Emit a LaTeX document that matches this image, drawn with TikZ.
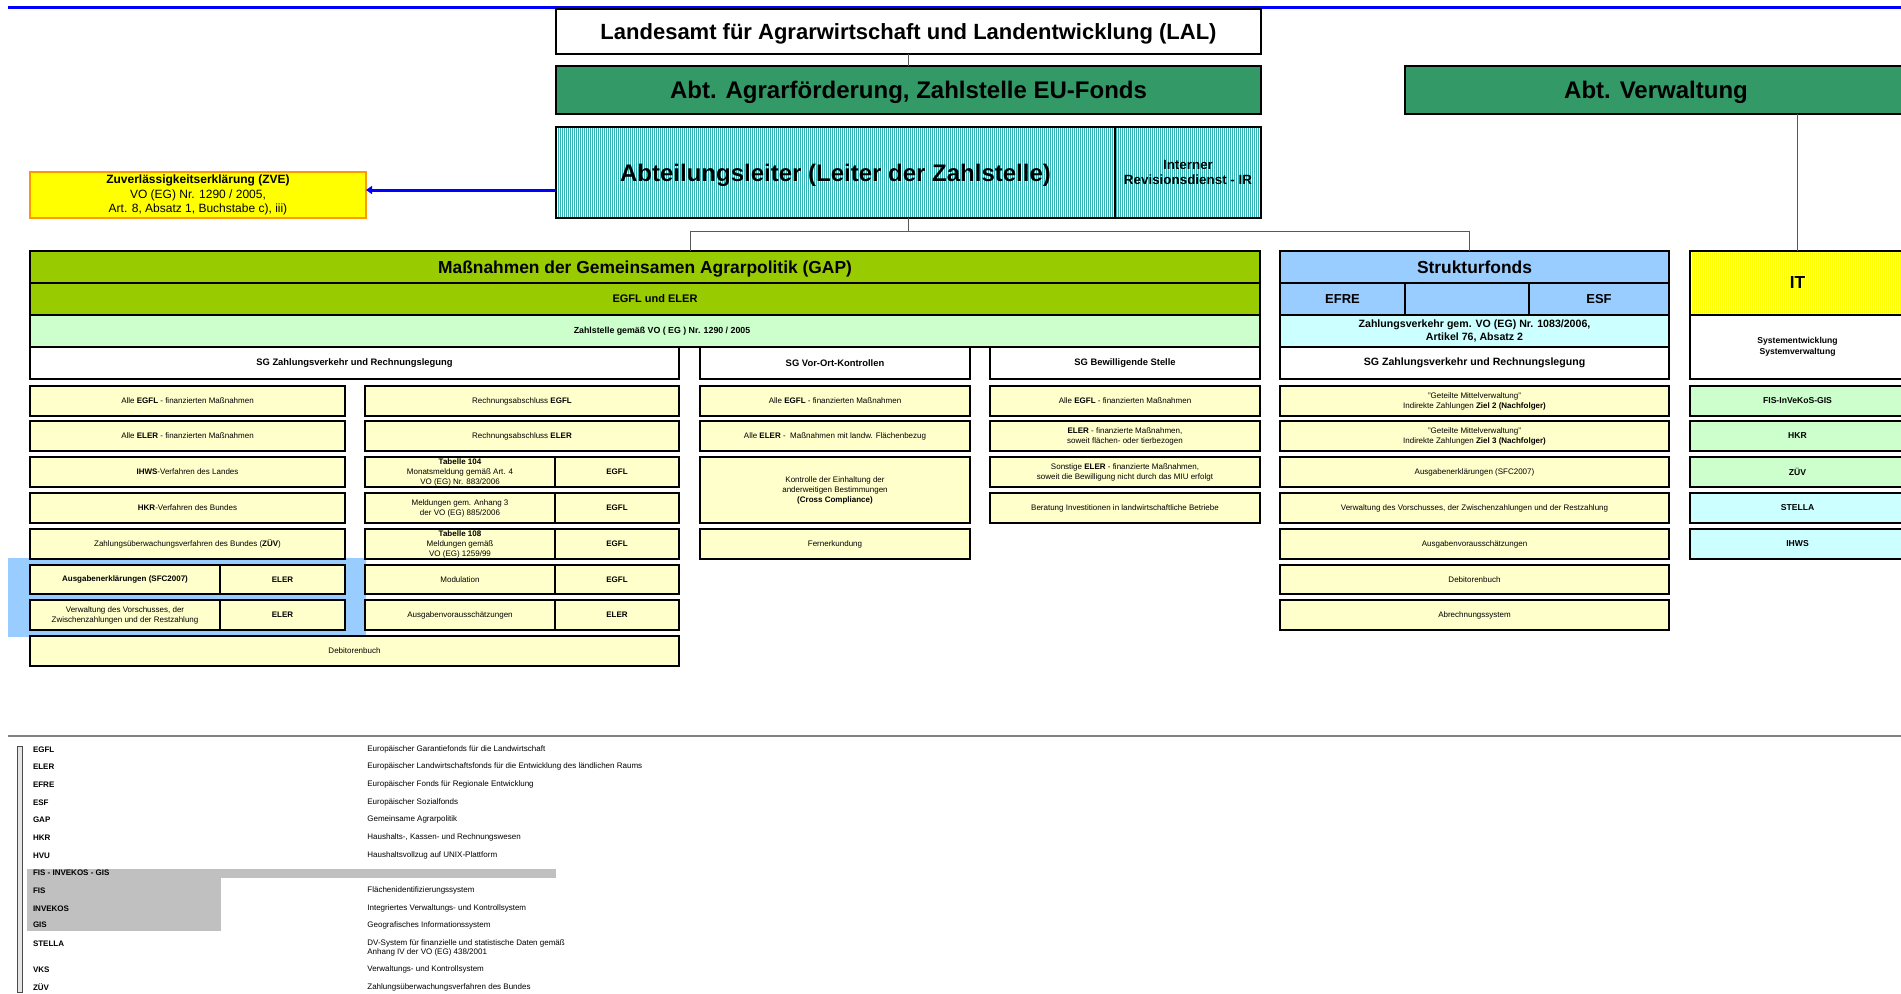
\documentclass[tikz,border=0pt]{standalone}
\usepackage{fontspec}
\setmainfont{Liberation Sans}
\usetikzlibrary{patterns.meta,arrows.meta}
\definecolor{abtgreen}{HTML}{339966}
\definecolor{gapgreen}{HTML}{99CC00}
\definecolor{lgreen}{HTML}{CCFFCC}
\definecolor{lyellow}{HTML}{FFFFCC}
\definecolor{sfblue}{HTML}{99CCFF}
\definecolor{lcyan}{HTML}{CCFFFF}
\definecolor{zveyellow}{HTML}{FFFF00}
\definecolor{zveorange}{HTML}{FF9900}
\definecolor{hatchteal}{HTML}{33B3B3}
\definecolor{hatchyellow}{HTML}{FFFF00}
\definecolor{legendgray}{HTML}{C0C0C0}
\newcommand\fzA{\fontsize{11pt}{13pt}\selectfont\bfseries}
\newcommand\fzB{\fontsize{12pt}{14pt}\selectfont\bfseries}
\newcommand\fzC{\fontsize{8.7pt}{10pt}\selectfont\bfseries}
\newcommand\fzD{\fontsize{5.5pt}{6.6pt}\selectfont\bfseries}
\newcommand\fzDD{\fontsize{6.5pt}{7.8pt}\selectfont\bfseries}
\newcommand\fzE{\fontsize{5.3pt}{6.4pt}\selectfont\bfseries}
\newcommand\fzEs{\fontsize{4.7pt}{5.6pt}\selectfont\bfseries}
\newcommand\fzEz{\fontsize{4.4pt}{5.3pt}\selectfont\bfseries}
\newcommand\fzIR{\fontsize{6.7pt}{7.9pt}\selectfont\bfseries}
\newcommand\fzZ{\fontsize{6pt}{7.3pt}\selectfont}
\newcommand\fzS{\fontsize{4pt}{5pt}\selectfont}
\newcommand\fzSB{\fontsize{4.3pt}{5.3pt}\selectfont\bfseries}
\newcommand\fzL{\fontsize{4pt}{4.6pt}\selectfont}
\newcommand\bx[7]{\node[#6, minimum width={(#4-#2)*0.5pt}, minimum height={(#5-#3)*0.5pt}] (#1) at ({(#2+#4)/2},{(#3+#5)/2}) {#7};}
\begin{document}
\begin{tikzpicture}[x=0.5pt,y=-0.5pt,
  box/.style={draw=black, line width=0.75pt, inner sep=0pt, outer sep=0pt, align=center, text=black},
  onel/.style={text depth=0pt},
  ybox/.style={box, fill=lyellow, font=\fzS},
  alhatch/.style={preaction={fill=white}, pattern={Lines[angle=90,distance=1pt,line width=0.5pt]}, pattern color=hatchteal},
  ithatch/.style={preaction={fill=white}, pattern={Lines[angle=90,distance=1pt,line width=0.5pt]}, pattern color=hatchyellow},
  conn/.style={draw=black!65, line width=0.5pt},
  zvearrow/.style={draw=blue, line width=1.5pt, -{Triangle[length=3pt,width=4pt]}},
  labb/.style={anchor=west, inner sep=0pt, font=\fzL\bfseries},
  labd/.style={anchor=west, inner sep=0pt, font=\fzL, align=left}
]
\clip (0,0) rectangle (1901,993);
\fill[white] (0,0) rectangle (1901,993);

% top rule
\coordinate (tl0) at (8,7.5);
\coordinate (tl1) at (1901,7.5);
\draw[blue, line width=1.1pt] (tl0) -- (tl1);

% head boxes
\bx{lal}{556}{9}{1261}{54}{box, onel, fill=white, font=\fzA}{Landesamt für Agrarwirtschaft und Landentwicklung (LAL)}
\bx{abt}{556}{66}{1261}{114}{box, onel, fill=abtgreen, font=\fzB}{Abt. Agrarförderung, Zahlstelle EU-Fonds}
\bx{al}{556}{127}{1115}{218}{box, onel, alhatch, font=\fzB}{Abteilungsleiter (Leiter der Zahlstelle)}
\bx{ir}{1115}{127}{1261}{218}{box, alhatch, font=\fzIR}{Interner\\Revisionsdienst - IR}
\bx{verw}{1405}{66}{1907}{114}{box, onel, fill=abtgreen, font=\fzB}{Abt. Verwaltung}
\bx{zve}{30}{172}{366}{218}{box, draw=zveorange, fill=zveyellow, font=\fzZ}{\textbf{Zuverlässigkeitserklärung (ZVE)}\\VO (EG) Nr. 1290 / 2005,\\Art. 8, Absatz 1, Buchstabe c), iii)}

% GAP block
\bx{gap1}{30}{251}{1260}{283}{box, onel, fill=gapgreen, font=\fzC}{Maßnahmen der Gemeinsamen Agrarpolitik (GAP)}
\bx{gap2}{30}{283}{1260}{315}{box, fill=gapgreen, font=\fzD}{\hspace*{10pt}EGFL und ELER}
\bx{gap3}{30}{315}{1260}{347}{box, fill=lgreen, font=\fzEz}{\hspace*{17pt}Zahlstelle gemäß VO ( EG ) Nr. 1290 / 2005}
\bx{sga}{30}{347}{679}{379}{box, fill=white, font=\fzEs}{SG Zahlungsverkehr und Rechnungslegung}
\bx{sgc}{700}{347}{970}{379}{box, fill=white, font=\fzEs}{SG Vor-Ort-Kontrollen}
\bx{sgd}{990}{347}{1260}{379}{box, fill=white, font=\fzEs}{SG Bewilligende Stelle}

% blue highlight
\fill[sfblue] (8,558) rectangle (366,637);

% column a
\bx{ga1}{30}{386}{345}{416}{ybox}{Alle \textbf{EGFL} - finanzierten Maßnahmen}
\bx{ga2}{30}{421}{345}{451}{ybox}{Alle \textbf{ELER} - finanzierten Maßnahmen}
\bx{ga3}{30}{457}{345}{487}{ybox}{\textbf{IHWS}-Verfahren des Landes}
\bx{ga4}{30}{493}{345}{523}{ybox}{\textbf{HKR}-Verfahren des Bundes}
\bx{ga5}{30}{529}{345}{559}{ybox}{Zahlungsüberwachungsverfahren des Bundes (\textbf{ZÜV})}
\bx{ga6}{30}{565}{220}{594}{ybox}{\textbf{Ausgabenerklärungen (SFC2007)}}
\bx{ga6b}{220}{565}{345}{594}{ybox}{\textbf{ELER}}
\bx{ga7}{30}{600}{220}{630}{ybox}{Verwaltung des Vorschusses, der\\Zwischenzahlungen und der Restzahlung}
\bx{ga7b}{220}{600}{345}{630}{ybox}{\textbf{ELER}}
\bx{ga8}{30}{636}{679}{666}{ybox}{Debitorenbuch}

% column b
\bx{gb1}{365}{386}{679}{416}{ybox}{Rechnungsabschluss \textbf{EGFL}}
\bx{gb2}{365}{421}{679}{451}{ybox}{Rechnungsabschluss \textbf{ELER}}
\bx{gb3}{365}{457}{555}{487}{ybox}{\textbf{Tabelle 104}\\Monatsmeldung gemäß Art. 4\\VO (EG) Nr. 883/2006}
\bx{gb3b}{555}{457}{679}{487}{ybox}{\textbf{EGFL}}
\bx{gb4}{365}{493}{555}{523}{ybox}{Meldungen gem. Anhang 3\\der VO (EG) 885/2006}
\bx{gb4b}{555}{493}{679}{523}{ybox}{\textbf{EGFL}}
\bx{gb5}{365}{529}{555}{559}{ybox}{\textbf{Tabelle 108}\\Meldungen gemäß\\VO (EG) 1259/99}
\bx{gb5b}{555}{529}{679}{559}{ybox}{\textbf{EGFL}}
\bx{gb6}{365}{565}{555}{594}{ybox}{Modulation}
\bx{gb6b}{555}{565}{679}{594}{ybox}{\textbf{EGFL}}
\bx{gb7}{365}{600}{555}{630}{ybox}{Ausgabenvorausschätzungen}
\bx{gb7b}{555}{600}{679}{630}{ybox}{\textbf{ELER}}

% column c
\bx{gc1}{700}{386}{970}{416}{ybox}{Alle \textbf{EGFL} - finanzierten Maßnahmen}
\bx{gc2}{700}{421}{970}{451}{ybox}{Alle \textbf{ELER} -~ Maßnahmen mit landw. Flächenbezug}
\bx{gc3}{700}{457}{970}{523}{ybox}{Kontrolle der Einhaltung der\\anderweitigen Bestimmungen\\\textbf{(Cross Compliance)}}
\bx{gc5}{700}{529}{970}{559}{ybox}{Fernerkundung}

% column d
\bx{gd1}{990}{386}{1260}{416}{ybox}{Alle \textbf{EGFL} - finanzierten Maßnahmen}
\bx{gd2}{990}{421}{1260}{451}{ybox}{\textbf{ELER} - finanzierte Maßnahmen,\\soweit flächen- oder tierbezogen}
\bx{gd3}{990}{457}{1260}{487}{ybox}{Sonstige \textbf{ELER} - finanzierte Maßnahmen,\\soweit die Bewilligung nicht durch das MIU erfolgt}
\bx{gd4}{990}{493}{1260}{523}{ybox}{Beratung Investitionen in landwirtschaftliche Betriebe}

% Strukturfonds
\bx{sf1}{1280}{251}{1669}{283}{box, onel, fill=sfblue, font=\fzC}{Strukturfonds}
\bx{sf2a}{1280}{283}{1405}{315}{box, fill=sfblue, font=\fzDD}{EFRE}
\bx{sf2b}{1405}{283}{1529}{315}{box, fill=sfblue, font=\fzDD}{}
\bx{sf2c}{1529}{283}{1669}{315}{box, fill=sfblue, font=\fzDD}{ESF}
\bx{sf3}{1280}{315}{1669}{347}{box, fill=lcyan, font=\fzE}{Zahlungsverkehr gem. VO (EG) Nr. 1083/2006,\\Artikel 76, Absatz 2}
\bx{sf4}{1280}{347}{1669}{379}{box, fill=white, font=\fzE}{SG Zahlungsverkehr und Rechnungslegung}
\bx{sr1}{1280}{386}{1669}{416}{ybox}{"Geteilte Mittelverwaltung"\\Indirekte Zahlungen \textbf{Ziel 2 (Nachfolger)}}
\bx{sr2}{1280}{421}{1669}{451}{ybox}{"Geteilte Mittelverwaltung"\\Indirekte Zahlungen \textbf{Ziel 3 (Nachfolger)}}
\bx{sr3}{1280}{457}{1669}{487}{ybox}{Ausgabenerklärungen (SFC2007)}
\bx{sr4}{1280}{493}{1669}{523}{ybox}{Verwaltung des Vorschusses, der Zwischenzahlungen und der Restzahlung}
\bx{sr5}{1280}{529}{1669}{559}{ybox}{Ausgabenvorausschätzungen}
\bx{sr6}{1280}{565}{1669}{594}{ybox}{Debitorenbuch}
\bx{sr7}{1280}{600}{1669}{630}{ybox}{Abrechnungssystem}

% IT
\bx{it1}{1690}{251}{1905}{315}{box, onel, ithatch, font=\fzC}{IT}
\bx{it2}{1690}{315}{1905}{379}{box, fill=white, font=\fzSB}{Systementwicklung\\Systemverwaltung}
\bx{itr1}{1690}{386}{1905}{416}{box, fill=lgreen, font=\fzSB}{FIS-InVeKoS-GIS}
\bx{itr2}{1690}{421}{1905}{451}{box, fill=lgreen, font=\fzSB}{HKR}
\bx{itr3}{1690}{457}{1905}{487}{box, fill=lgreen, font=\fzSB}{ZÜV}
\bx{itr4}{1690}{493}{1905}{523}{box, fill=lcyan, font=\fzSB}{STELLA}
\bx{itr5}{1690}{529}{1905}{559}{box, fill=lcyan, font=\fzSB}{IHWS}

% connectors
\coordinate (jL) at (690,231);
\coordinate (jR) at (1469,231);
\coordinate (arr) at (0,190);
\draw[conn] (lal.south) -- (abt.north);
\draw[conn] (lal.south |- al.south) -- (lal.south |- jL);
\draw[conn] (jL) -- (jR);
\draw[conn] (jL) -- (jL |- gap1.north);
\draw[conn] (jR) -- (jR |- sf1.north);
\draw[conn] (verw.south -| it1.north) -- (it1.north);
\draw[zvearrow] (al.west |- arr) -- (zve.east |- arr);

% legend
\coordinate (sep0) at (8,736);
\coordinate (sep1) at (1901,736);
\draw[gray, line width=1pt] (sep0) -- (sep1);
\fill[legendgray] (26.8,869) rectangle (556,877.7);
\fill[legendgray] (26.8,877.7) rectangle (221,930.7);
\draw[black!70, fill=black!10, line width=0.4pt] (17,746) rectangle (22.5,992);
\node[labb] (lgA1) at (32.6,749.3) {EGFL};
\node[labb] (lgA2) at (32.6,766.7) {ELER};
\node[labb] (lgA3) at (32.6,784.3) {EFRE};
\node[labb] (lgA4) at (32.6,802.3) {ESF};
\node[labb] (lgA5) at (32.6,819.3) {GAP};
\node[labb] (lgA6) at (32.6,837.3) {HKR};
\node[labb] (lgA7) at (32.6,855.3) {HVU};
\node[labb] (lgA8) at (32.6,872.7) {FIS - INVEKOS - GIS};
\node[labb] (lgA9) at (32.6,890.3) {FIS};
\node[labb] (lgA10) at (32.6,908.3) {INVEKOS};
\node[labb] (lgA11) at (32.6,925) {GIS};
\node[labb] (lgA12) at (32.6,943.3) {STELLA};
\node[labb] (lgA13) at (32.6,969.3) {VKS};
\node[labb] (lgA14) at (32.6,987.3) {ZÜV};
\node[labd] (lgB1) at (367,749.3) {Europäischer Garantiefonds für die Landwirtschaft};
\node[labd] (lgB2) at (367,766.7) {Europäischer Landwirtschaftsfonds für die Entwicklung des ländlichen Raums};
\node[labd] (lgB3) at (367,784.3) {Europäischer Fonds für Regionale Entwicklung};
\node[labd] (lgB4) at (367,802.3) {Europäischer Sozialfonds};
\node[labd] (lgB5) at (367,819.3) {Gemeinsame Agrarpolitik};
\node[labd] (lgB6) at (367,837.3) {Haushalts-, Kassen- und Rechnungswesen};
\node[labd] (lgB7) at (367,855.3) {Haushaltsvollzug auf UNIX-Plattform};
\node[labd] (lgB9) at (367,890.3) {Flächenidentifizierungssystem};
\node[labd] (lgB10) at (367,908.3) {Integriertes Verwaltungs- und Kontrollsystem};
\node[labd] (lgB11) at (367,925) {Geografisches Informationssystem};
\node[labd] (lgB12) at (367,947.8) {DV-System für finanzielle und statistische Daten gemäß\\Anhang IV der VO (EG) 438/2001};
\node[labd] (lgB13) at (367,969.3) {Verwaltungs- und Kontrollsystem};
\node[labd] (lgB14) at (367,987.3) {Zahlungsüberwachungsverfahren des Bundes};
\end{tikzpicture}
\end{document}
